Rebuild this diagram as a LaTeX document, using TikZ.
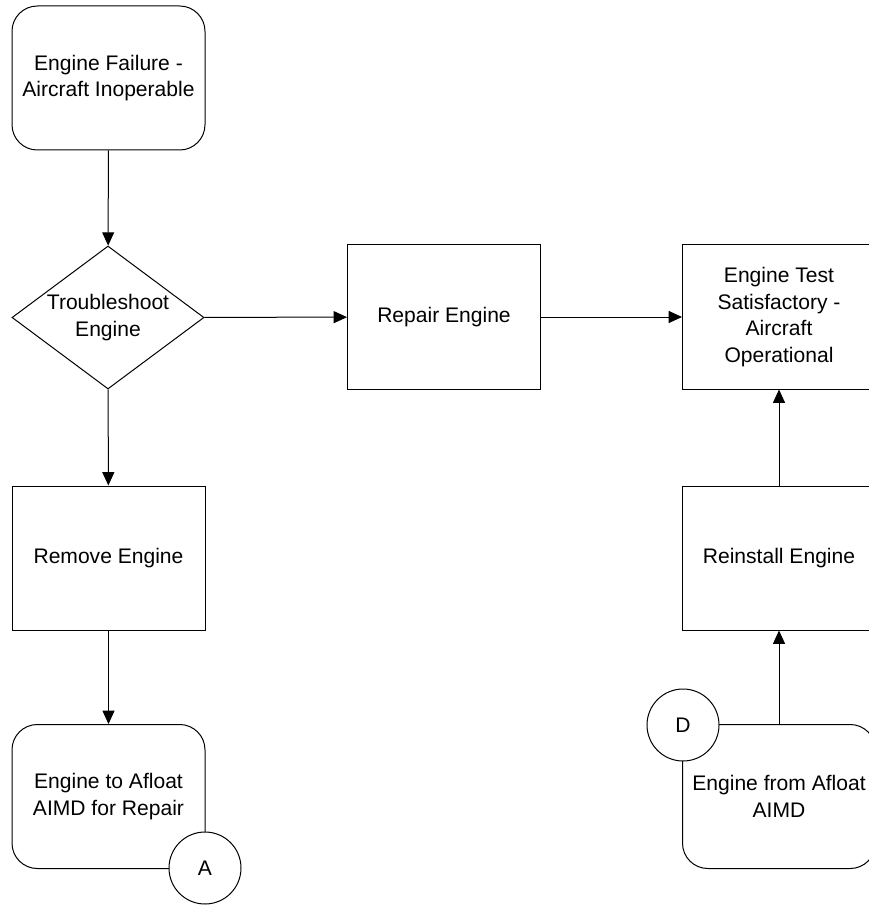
\documentclass[tikz,border=0pt]{standalone}
\usepackage{fontspec}
\setmainfont{Liberation Sans}
\usetikzlibrary{shapes.geometric,arrows.meta}
\begin{document}
\begin{tikzpicture}[x=0.75pt,y=-0.75pt,
  every node/.style={font=\fontsize{15.8pt}{19.8pt}\selectfont, align=center, inner sep=0pt},
  proc/.style={draw, line width=0.75pt, fill=white, rectangle, minimum width=144.75pt, minimum height=108pt},
  term/.style={proc, rounded corners=19pt},
  decide/.style={draw, line width=0.75pt, fill=white, diamond, shape aspect=1.343, minimum width=144pt, minimum height=107.25pt},
  conn/.style={draw, line width=0.75pt, fill=white, circle, minimum size=54pt},
  flow/.style={line width=0.75pt, -{Triangle[length=10pt,width=9pt]}}]
\useasboundingbox (0,0) rectangle (868,905);

% left column
\node[term]   (fail)    at (108.5,78)    {Engine Failure -\\Aircraft Inoperable};
\node[decide] (trouble) at (108,317.5)   {Troubleshoot\\Engine};
\node[proc]   (remove)  at (108.5,558)   {Remove Engine};
\node[term]   (toaimd)  at (108.5,796.5) {Engine to Afloat\\AIMD for Repair};
\node[conn]   (conA)    at (205,868)     {A};

% middle
\node[proc]   (repair)  at (444,317)     {Repair Engine};

% right column
\node[proc]   (test)    at (779,317)     {Engine Test\\Satisfactory -\\Aircraft\\Operational};
\node[proc]   (reinst)  at (779,558)     {Reinstall Engine};
\node[term]   (fromaimd) at (779,796.5)  {Engine from Afloat\\AIMD};
\node[conn]   (conD)    at (683,725)     {D};

% connectors
\draw[flow] (fail) -- (trouble);
\draw[flow] (trouble) -- (repair);
\draw[flow] (repair) -- (test);
\draw[flow] (trouble) -- (remove);
\draw[flow] (remove) -- (toaimd);
\draw[flow] (fromaimd) -- (reinst);
\draw[flow] (reinst) -- (test);
\end{tikzpicture}
\end{document}
